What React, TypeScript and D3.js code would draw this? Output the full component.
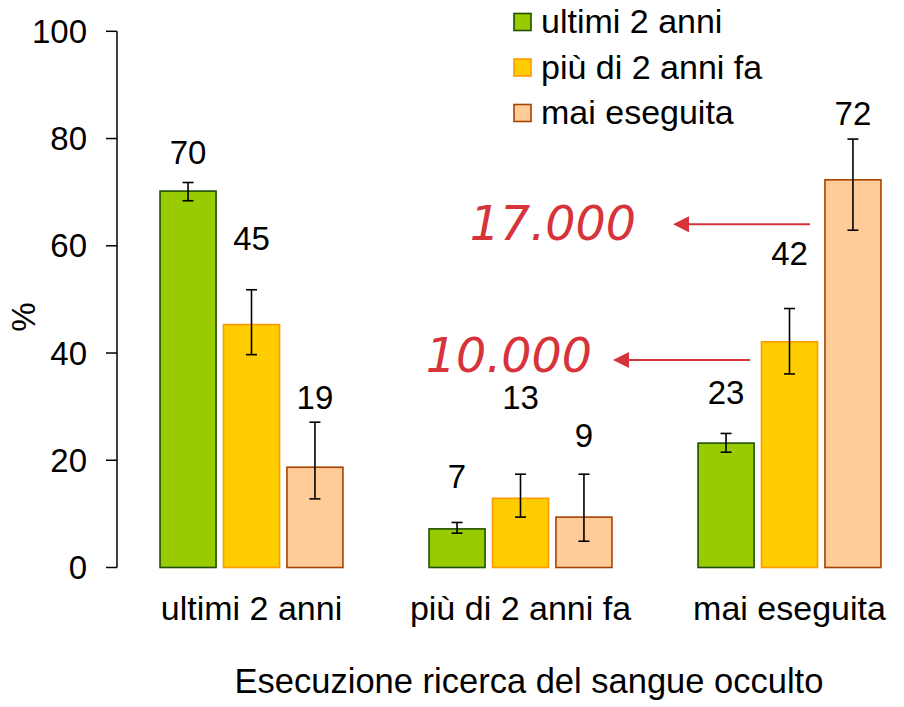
import React from "react";
import * as d3 from "d3";

const categories = ["ultimi 2 anni", "più di 2 anni fa", "mai eseguita"];
const seriesNames = ["ultimi 2 anni", "più di 2 anni fa", "mai eseguita"];
const greenValues = [70.2, 7.2, 23.2];
const yellowValues = [45.3, 12.9, 42.1];
const peachValues = [18.7, 9.4, 72.3];
const greenUpper = [71.8, 8.4, 25.0];
const greenLower = [68.4, 6.4, 21.5];
const yellowUpper = [51.8, 17.4, 48.3];
const yellowLower = [39.7, 9.4, 36.1];
const peachUpper = [27.1, 17.4, 79.9];
const peachLower = [12.8, 4.9, 62.9];
const greenLabelAt = [75.3, 14.8, 30.5];
const yellowLabelAt = [59.2, 29.6, 56.4];
const peachLabelAt = [29.6, 22.5, 82.5];
const yTicks = [0, 20, 40, 60, 80, 100];
const annotationTexts = ["17.000", "10.000"];
const annotationArrowAt = [64.0, 38.7];
const annotationTextAt = [61.0, 36.5];

const fills = ["#99cc00", "#ffcc00", "#ffcc99"];
const strokes = ["#1f4f00", "#ff9900", "#a64300"];
const RED = "#d7333b";
const FONT = "'Liberation Sans', Arial, sans-serif";

export default function App() {
  const W = 904, H = 707;
  const y = d3.scaleLinear().domain([0, 100]).range([567.5, 31.3]);
  const x0 = d3.scaleBand().domain(categories).range([117, 924]).paddingInner(0.32).paddingOuter(0.16);
  const x1 = d3.scaleBand().domain(seriesNames).range([0, x0.bandwidth()]).paddingInner(0.117);
  const series = [
    { vals: greenValues, up: greenUpper, lo: greenLower, lab: greenLabelAt },
    { vals: yellowValues, up: yellowUpper, lo: yellowLower, lab: yellowLabelAt },
    { vals: peachValues, up: peachUpper, lo: peachLower, lab: peachLabelAt },
  ];
  const bw = x1.bandwidth();
  const axisX = 117;
  // arrows run from the bar group 3 / group 2 region leftwards
  const arrowFrom = [810, 750];
  const arrowTip = [673, 613];
  const textRight = [636, 592];
  return (
    <svg width={W} height={H} style={{ position: "absolute", left: 0, top: 0, background: "#fff" }} fontFamily={FONT}>
      <defs>
        <marker id="arr" viewBox="0 0 10 10" refX="0" refY="5" markerWidth="16" markerHeight="16" markerUnits="userSpaceOnUse" orient="auto">
          <path d="M0,0 L10,5 L0,10 z" fill={RED} />
        </marker>
      </defs>
      <line x1={axisX} x2={axisX} y1={y(0)} y2={y(100)} stroke="#000" strokeWidth={1.5} />
      {yTicks.map((t) => (
        <g key={t}>
          <line x1={axisX - 11} x2={axisX} y1={y(t)} y2={y(t)} stroke="#000" strokeWidth={1.5} />
          <text x={87} y={y(t)} dy="0.35em" textAnchor="end" fontSize={33}>{t}</text>
        </g>
      ))}
      <text transform={`translate(35,317) rotate(-90)`} textAnchor="middle" fontSize={33}>%</text>
      {categories.map((c, ci) => (
        <g key={c}>
          {series.map((s, si) => {
            const bx = (x0(c) as number) + (x1(seriesNames[si]) as number);
            const cx = bx + bw / 2;
            return (
              <g key={si}>
                <rect x={bx} y={y(s.vals[ci])} width={bw} height={y(0) - y(s.vals[ci])} fill={fills[si]} stroke={strokes[si]} strokeWidth={1.6} />
                <line x1={cx} x2={cx} y1={y(s.up[ci])} y2={y(s.lo[ci])} stroke="#000" strokeWidth={1.6} />
                <line x1={cx - 5.5} x2={cx + 5.5} y1={y(s.up[ci])} y2={y(s.up[ci])} stroke="#000" strokeWidth={1.6} />
                <line x1={cx - 5.5} x2={cx + 5.5} y1={y(s.lo[ci])} y2={y(s.lo[ci])} stroke="#000" strokeWidth={1.6} />
                <text x={cx} y={y(s.lab[ci])} textAnchor="middle" fontSize={33}>{Math.round(s.vals[ci])}</text>
              </g>
            );
          })}
          <text x={(x0(c) as number) + x0.bandwidth() / 2} y={620} textAnchor="middle" fontSize={34}>{c}</text>
        </g>
      ))}
      <text x={529} y={693} textAnchor="middle" fontSize={34.5}>Esecuzione ricerca del sangue occulto</text>
      {seriesNames.map((n, i) => (
        <g key={n} transform={`translate(514,${22 + i * 45.5})`}>
          <rect x={0} y={-8.5} width={17} height={17} fill={fills[i]} stroke={strokes[i]} strokeWidth={1.6} />
          <text x={27} y={11} fontSize={34}>{n}</text>
        </g>
      ))}
      {annotationTexts.map((t, i) => (
        <g key={t}>
          <line x1={arrowFrom[i]} x2={arrowTip[i] + 16} y1={y(annotationArrowAt[i])} y2={y(annotationArrowAt[i])} stroke={RED} strokeWidth={2} markerEnd="url(#arr)" />
          <text x={textRight[i]} y={y(annotationTextAt[i])} textAnchor="end" fontSize={47.5} fontStyle="italic" fill={RED} fontFamily="'DejaVu Sans', Verdana, sans-serif">{t}</text>
        </g>
      ))}
    </svg>
  );
}
